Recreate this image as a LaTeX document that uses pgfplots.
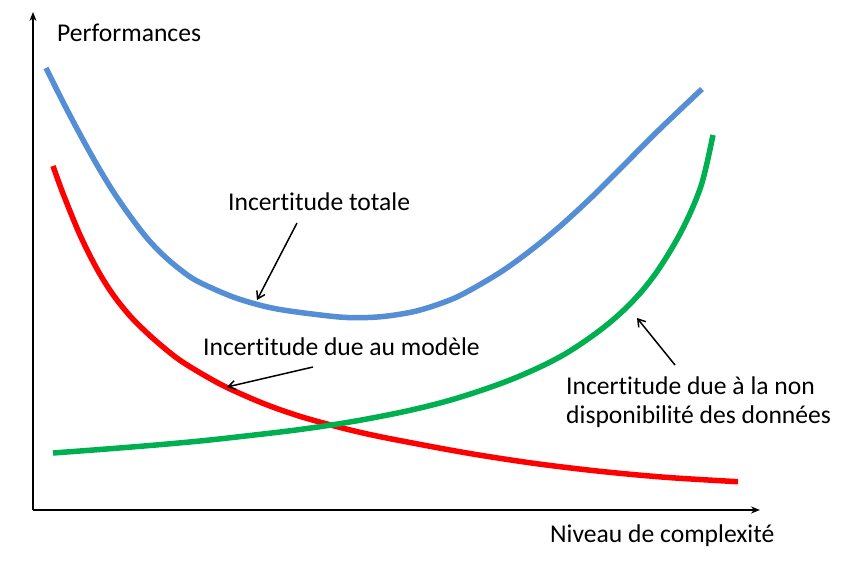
\documentclass[border=0pt]{standalone}
\usepackage{pgfplots}
\pgfplotsset{compat=1.18}
\usepackage{fontspec}
\setmainfont{Carlito}[Ligatures={NoCommon}]
\usetikzlibrary{arrows.meta}
\definecolor{cblue}{HTML}{558ED5}
\definecolor{cred}{HTML}{FF0000}
\definecolor{cgreen}{HTML}{00B050}
\begin{document}
\begin{tikzpicture}
\fontsize{25.6}{30}\selectfont
\begin{axis}[
  hide axis, scale only axis,
  width=859pt, height=569pt,
  xmin=0, xmax=859, ymin=0, ymax=569,
  y dir=reverse, clip=false,
]
\path (axis cs:0,0) rectangle (axis cs:859,569);
% axes
\draw[line width=2pt,-{Stealth[length=9pt,width=7pt]}] (axis cs:33,510) -- (axis cs:33,12);
\draw[line width=2pt,-{Stealth[length=9pt,width=7pt]}] (axis cs:33,510) -- (axis cs:760,510);

% incertitude totale
\addplot[cblue, line width=5.5pt, smooth, tension=0.55] coordinates {
 (46,68) (63,102) (80,134.3) (97,164.9) (113,191.3) (130,216) (147,238.1)
 (163,254.9) (180,269.4) (197,281) (230,295.8) (257,304.4) (280,309.5)
 (313,314.1) (347,317.5) (380,316.8) (413,311.8) (440,303.7) (463,294)
 (500,272.5) (530,250.9) (560,226.3) (593,195.9) (627,161.9) (660,128.9) (702,89)
};
% incertitude due au modele
\addplot[cred, line width=5.5pt, smooth, tension=0.55] coordinates {
 (53,166) (63,193.5) (80,235) (97,269) (113,294.6) (130,315.9) (147,332.9)
 (163,347) (180,360.3) (203,374.5) (227,387.5) (263,403.3) (297,415.4)
 (330,424.8) (363,433) (400,440.6) (467,453) (533,463.2) (600,471.3)
 (667,477.4) (738,481.7)
};
% incertitude due a la non disponibilite des donnees
\addplot[cgreen, line width=5.5pt, smooth, tension=0.55] coordinates {
 (53,453) (100,449.5) (150,445.5) (200,441) (250,435.5) (300,429.5) (350,422)
 (400,412.5) (440,403) (475,392.5) (510,380) (540,367) (565,354) (588,339)
 (608,324) (626,308) (642,291) (656,273) (669,253) (681,232) (692,209)
 (701,186) (707,163) (713,135)
};

\draw[line width=1.5pt,-{Straight Barb[length=7pt,width=9pt]}] (axis cs:297,223) -- (axis cs:257,300);
\draw[line width=1.5pt,-{Straight Barb[length=7pt,width=9pt]}] (axis cs:313,367) -- (axis cs:227,387);
\draw[line width=1.5pt,-{Straight Barb[length=7pt,width=9pt]}] (axis cs:675,365) -- (axis cs:637,318);

\node[anchor=west, inner sep=0pt] at (axis cs:57,33) {Performances};
\node[anchor=west, inner sep=0pt] at (axis cs:228,202) {Incertitude totale};
\node[anchor=west, inner sep=0pt] at (axis cs:203,347) {Incertitude due au modèle};
\node[anchor=west, inner sep=0pt] at (axis cs:566,386) {Incertitude due à la non};
\node[anchor=west, inner sep=0pt] at (axis cs:566,417) {disponibilité des données};
\node[anchor=west, inner sep=0pt] at (axis cs:550,536) {Niveau de complexité};
\end{axis}
\end{tikzpicture}
\end{document}
